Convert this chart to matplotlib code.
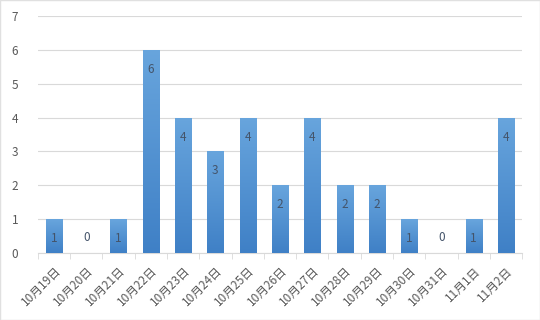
import matplotlib
matplotlib.use("Agg")
import matplotlib.pyplot as plt
import matplotlib.transforms as mtransforms
import numpy as np
from matplotlib.colors import LinearSegmentedColormap

plt.rcParams['font.family'] = ['Noto Sans CJK SC', 'DejaVu Sans']

categories = ["10月19日", "10月20日", "10月21日", "10月22日", "10月23日", "10月24日",
              "10月25日", "10月26日", "10月27日", "10月28日", "10月29日", "10月30日",
              "10月31日", "11月1日", "11月2日"]
values = [1, 0, 1, 6, 4, 3, 4, 2, 4, 2, 2, 1, 0, 1, 4]
yticks = [0, 1, 2, 3, 4, 5, 6, 7]

fig = plt.figure(figsize=(5.4, 3.2), dpi=100)
ax = fig.add_axes([0.070, 0.209, 0.897, 0.741])

x = np.arange(len(categories))
bars = ax.bar(x, values, width=0.5, color="#5B9BD5", zorder=2)

cmap = LinearSegmentedColormap.from_list("g", ["#3F80C6", "#68A5DD"])
grad = np.linspace(0, 1, 256).reshape(-1, 1)
for b in bars:
    h = b.get_height()
    if h <= 0:
        continue
    x0 = b.get_x()
    w = b.get_width()
    im = ax.imshow(grad, cmap=cmap, origin="lower", aspect="auto",
                   extent=[x0, x0 + w, 0, h], zorder=3)
    im.set_clip_path(b)
    b.set_facecolor("none")

for xi, v in zip(x, values):
    off = -14 if v > 0 else 11
    ax.annotate(str(v), (xi, v), xytext=(0, off), textcoords="offset points",
                ha="center", va="center", fontsize=8.5, color="#44546A", zorder=4)

ax.set_xlim(-0.5, len(categories) - 0.5)
ax.set_ylim(0, 7)
ax.set_yticks(yticks)
ax.set_xticks(x)
ax.set_xticklabels(categories, rotation=45, ha="right", rotation_mode="anchor",
                   fontsize=8.5, color="#595959")
shift = mtransforms.ScaledTranslation(5 / 72, 0, fig.dpi_scale_trans)
for lbl in ax.get_xticklabels():
    lbl.set_transform(lbl.get_transform() + shift)
ax.set_xticks(np.arange(-0.5, len(categories), 1), minor=True)
ax.tick_params(axis="x", which="major", length=0, pad=8)
ax.tick_params(axis="x", which="minor", length=4, color="#D9D9D9")
ax.tick_params(axis="y", length=0, labelsize=8.5, labelcolor="#595959", pad=14)
ax.grid(axis="y", color="#D9D9D9", linewidth=0.8, zorder=0)
for s in ["left", "right", "top"]:
    ax.spines[s].set_visible(False)
ax.spines["bottom"].set_color("#D9D9D9")
ax.set_axisbelow(True)

fig.patches.append(plt.Rectangle((0, 0), 1, 1, transform=fig.transFigure,
                                 fill=False, edgecolor="#E0E0E0", linewidth=1))

fig.savefig("out.png", dpi=100)
